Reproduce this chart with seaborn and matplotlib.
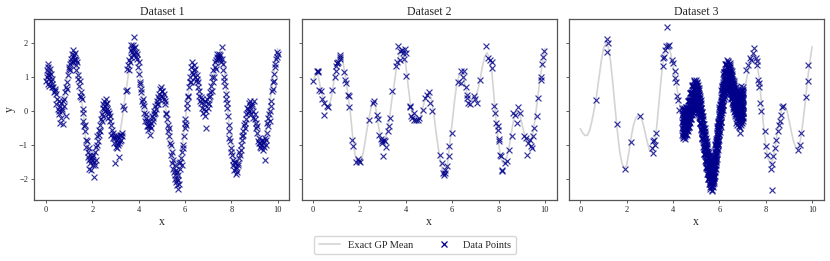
import numpy as np
import pandas as pd
import matplotlib
matplotlib.use("Agg")
import matplotlib.pyplot as plt
from matplotlib.lines import Line2D
import seaborn as sns

# ---------------- data ----------------
titles = ["Dataset 1", "Dataset 2", "Dataset 3"]
curve_x = np.linspace(0, 10, 101)

# exact GP mean (datasets 1 & 2), sampled every 0.1
curve12 = [0.85, 1.08, 1.12, 0.75, 0.45, 0.25, 0.12, 0.15, 0.45, 0.90,
           1.30, 1.55, 1.62, 1.40, 1.00, 0.50, 0.00, -0.70, -1.25, -1.50,
           -1.55, -1.40, -1.10, -0.65, -0.25, 0.10, 0.28, 0.10, -0.35, -0.75,
           -0.90, -0.85, -0.62, -0.20, 0.35, 0.80, 1.30, 1.65, 1.80, 1.75,
           1.35, 0.75, 0.20, -0.15, -0.32, -0.37, -0.25, 0.00, 0.28, 0.48,
           0.55, 0.35, -0.05, -0.60, -1.10, -1.50, -1.82, -1.88, -1.55, -0.95,
           -0.35, 0.30, 0.80, 1.05, 1.10, 0.95, 0.65, 0.38, 0.28, 0.30,
           0.40, 0.60, 0.92, 1.30, 1.60, 1.72, 1.60, 1.25, 0.45, -0.35,
           -0.95, -1.40, -1.55, -1.50, -1.25, -0.90, -0.45, -0.10, 0.02, -0.05,
           -0.35, -0.65, -0.85, -0.92, -0.88, -0.60, -0.10, 0.45, 1.00, 1.45,
           1.85]

# exact GP mean (dataset 3)
curve3 = [-0.52, -0.65, -0.72, -0.72, -0.58, -0.30, 0.05, 0.45, 0.95, 1.45,
          1.85, 2.00, 1.90, 1.50, 0.85, 0.10, -0.60, -1.20, -1.55, -1.70,
          -1.60, -1.20, -0.75, -0.40, -0.20, -0.13, -0.15, -0.35, -0.65, -0.95,
          -1.18, -1.20, -0.95, -0.45, 0.30, 1.05, 1.60, 1.88, 1.90, 1.70,
          1.35, 1.00, 0.55, 0.10, -0.25, -0.37, -0.25, 0.00, 0.28, 0.48,
          0.55, 0.35, -0.05, -0.60, -1.10, -1.50, -1.82, -1.88, -1.55, -0.95,
          -0.35, 0.30, 0.80, 1.05, 1.10, 0.95, 0.65, 0.38, 0.25, 0.18,
          0.30, 0.65, 1.05, 1.40, 1.62, 1.68, 1.50, 1.05, 0.35, -0.40,
          -1.00, -1.40, -1.58, -1.45, -1.10, -0.65, -0.25, 0.08, 0.18, 0.05,
          -0.25, -0.60, -0.90, -1.08, -1.10, -0.85, -0.35, 0.25, 0.90, 1.45,
          1.90]

# data points, dataset 1
x1 = [0.02, 0.05, 0.07, 0.08, 0.10, 0.12, 0.14, 0.15, 0.18, 0.22, 0.25, 0.28, 0.32, 0.35, 0.38,
      0.42, 0.45, 0.48, 0.52, 0.55, 0.56, 0.58, 0.62, 0.65, 0.66, 0.68, 0.72, 0.75, 0.78, 0.82,
      0.85, 0.88, 0.92, 0.95, 0.98, 1.02, 1.05, 1.08, 1.12, 1.15, 1.16, 1.18, 1.22, 1.25, 1.26,
      1.28, 1.32, 1.35, 1.38, 1.42, 1.45, 1.48, 1.52, 1.55, 1.58, 1.62, 1.65, 1.68, 1.72, 1.75,
      1.78, 1.82, 1.85, 1.86, 1.88, 1.92, 1.95, 1.96, 1.98, 2.02, 2.05, 2.06, 2.08, 2.12, 2.15,
      2.18, 2.22, 2.25, 2.28, 2.32, 2.35, 2.38, 2.42, 2.45, 2.46, 2.48, 2.52, 2.55, 2.56, 2.58,
      2.62, 2.65, 2.66, 2.68, 2.72, 2.75, 2.78, 2.82, 2.85, 2.88, 2.92, 2.95, 2.98, 3.00, 3.02,
      3.05, 3.06, 3.08, 3.12, 3.15, 3.16, 3.18, 3.22, 3.25, 3.28, 3.32, 3.36, 3.45, 3.48, 3.52,
      3.55, 3.58, 3.62, 3.65, 3.66, 3.68, 3.72, 3.75, 3.76, 3.78, 3.82, 3.85, 3.88, 3.92, 3.95,
      3.98, 4.02, 4.05, 4.08, 4.12, 4.15, 4.18, 4.22, 4.25, 4.28, 4.32, 4.35, 4.38, 4.42, 4.45,
      4.46, 4.48, 4.52, 4.55, 4.58, 4.62, 4.65, 4.68, 4.72, 4.75, 4.78, 4.82, 4.85, 4.88, 4.92,
      4.95, 4.98, 5.02, 5.05, 5.08, 5.12, 5.15, 5.18, 5.22, 5.25, 5.28, 5.32, 5.35, 5.38, 5.42,
      5.45, 5.48, 5.52, 5.55, 5.56, 5.58, 5.62, 5.64, 5.65, 5.66, 5.68, 5.72, 5.75, 5.76, 5.78,
      5.82, 5.85, 5.88, 5.92, 5.95, 5.98, 6.02, 6.05, 6.08, 6.12, 6.15, 6.18, 6.22, 6.25, 6.28,
      6.32, 6.35, 6.38, 6.42, 6.45, 6.48, 6.52, 6.55, 6.58, 6.62, 6.65, 6.68, 6.72, 6.75, 6.78,
      6.82, 6.85, 6.88, 6.90, 6.92, 6.95, 6.98, 7.02, 7.05, 7.08, 7.12, 7.15, 7.18, 7.22, 7.25,
      7.28, 7.32, 7.35, 7.38, 7.42, 7.45, 7.48, 7.52, 7.55, 7.58, 7.62, 7.65, 7.68, 7.72, 7.75,
      7.78, 7.82, 7.85, 7.88, 7.92, 7.95, 7.98, 8.02, 8.05, 8.08, 8.12, 8.15, 8.18, 8.22, 8.25,
      8.28, 8.32, 8.35, 8.38, 8.42, 8.45, 8.48, 8.52, 8.55, 8.58, 8.62, 8.65, 8.68, 8.72, 8.75,
      8.78, 8.82, 8.85, 8.88, 8.92, 8.95, 8.98, 9.02, 9.05, 9.08, 9.12, 9.15, 9.18, 9.22, 9.25,
      9.28, 9.32, 9.35, 9.38, 9.42, 9.45, 9.47, 9.48, 9.52, 9.55, 9.58, 9.62, 9.65, 9.68, 9.72,
      9.75, 9.78, 9.82, 9.85, 9.88, 9.92, 9.95, 9.98]
y1 = [0.90, 1.20, 1.05, 0.80, 1.40, 1.15, 0.75, 0.95, 1.25, 1.10, 0.80, 0.95, 0.70, 0.55, 0.65,
      0.50, 0.20, 0.35, 0.05, 0.30, -0.10, 0.00, -0.35, 0.25, -0.20, 0.05, -0.38, 0.30, 0.15, 0.55,
      -0.15, 0.70, 0.65, 1.05, 1.25, 1.40, 1.20, 1.45, 1.70, 1.45, 1.60, 1.80, 1.50, 1.72, 1.55,
      1.35, 1.20, 1.45, 0.95, 0.75, 0.90, 0.45, 0.40, 0.35, -0.05, -0.30, -0.45, -0.40, -0.85, -1.05,
      -0.90, -1.35, -1.10, -1.70, -1.45, -1.30, -1.75, -1.40, -1.45, -1.60, -1.30, -1.50, -1.95, -1.20, -1.45,
      -1.05, -0.75, -0.90, -0.55, -0.40, -0.60, -0.25, -0.30, 0.10, 0.20, -0.15, 0.30, 0.00, 0.15, 0.35,
      0.05, 0.25, -0.10, -0.20, -0.05, -0.30, -0.15, -0.70, -0.55, -0.80, -0.75, -0.95, -0.80, -1.55, -1.05,
      -0.85, -0.95, -1.10, -0.75, -0.95, -1.35, -0.70, -0.70, -0.85, -0.75, 0.15, 0.05, 0.60, 0.62, 1.25,
      1.35, 1.50, 1.45, 1.80, 1.95, 1.60, 1.85, 1.70, 1.95, 2.20, 1.65, 1.90, 1.75, 1.55, 1.70,
      1.30, 1.10, 0.85, 0.80, 0.55, 0.30, 0.20, -0.05, 0.15, -0.30, -0.20, -0.45, -0.30, -0.55, -0.30,
      -0.40, -0.70, -0.35, -0.50, -0.15, -0.30, 0.00, -0.10, 0.15, 0.05, 0.20, 0.40, 0.20, 0.50, 0.65,
      0.45, 0.70, 0.60, 0.40, 0.50, 0.20, 0.30, -0.10, -0.25, -0.40, -0.60, -0.75, -0.95, -1.00, -1.55,
      -1.20, -1.70, -1.80, -1.60, -1.90, -2.00, -2.10, -2.20, -1.80, -2.00, -2.30, -1.90, -2.15, -1.55, -1.70,
      -1.40, -1.60, -1.20, -1.00, -0.75, -0.50, -0.25, -0.40, 0.10, 0.40, 0.45, 0.70, 1.00, 0.85, 1.30,
      1.45, 1.10, 1.20, 1.00, 1.25, 0.90, 0.95, 0.70, 0.85, 0.45, 0.30, 0.40, 0.10, 0.35, -0.05,
      0.20, -0.15, 0.30, -0.50, 0.00, 0.35, 0.10, 0.40, 0.20, 0.55, 0.75, 0.60, 1.00, 1.20, 1.00,
      1.30, 1.25, 1.50, 1.60, 1.55, 1.70, 1.60, 1.65, 1.45, 1.90, 1.40, 1.20, 1.00, 0.75, 0.50,
      0.35, 0.10, -0.15, -0.40, -0.80, -0.90, -1.10, -1.30, -1.45, -1.60, -1.75, -1.55, -1.85, -1.65, -1.80,
      -1.60, -1.40, -1.20, -1.30, -1.00, -0.85, -0.75, -0.60, -0.40, -0.50, -0.25, -0.10, 0.10, -0.05, 0.25,
      0.00, 0.30, -0.10, 0.15, 0.00, -0.20, 0.30, -0.25, -0.35, -0.50, -0.65, -0.90, -0.80, -1.05, -0.95,
      -1.10, -0.85, -1.15, -0.95, -1.05, -0.80, -1.45, -1.00, -0.65, -0.35, -0.20, -0.10, -0.30, 0.00, 0.30,
      0.60, 0.85, 0.90, 1.10, 1.30, 1.55, 1.75, 1.60]
# further points of dataset 1
x1b = [0.04, 0.09, 0.13, 0.20, 0.27, 0.40, 0.60, 0.70, 0.80, 0.90, 1.00, 1.10, 1.20, 1.30, 1.40,
       1.50, 1.60, 1.70, 1.80, 1.90, 2.00, 2.10, 2.20, 2.30, 2.40, 2.50, 2.60, 2.70, 2.80, 2.90,
       3.04, 3.10, 3.20, 3.27, 3.60, 3.70, 3.80, 3.90, 4.00, 4.10, 4.20, 4.30, 4.40, 4.50, 4.60,
       4.70, 4.80, 4.90, 5.00, 5.10, 5.20, 5.30, 5.40, 5.50, 5.60, 5.70, 5.80, 5.90, 6.00, 6.10,
       6.20, 6.30, 6.40, 6.50, 6.60, 6.70, 6.80, 7.00, 7.10, 7.20, 7.30, 7.40, 7.50, 7.60, 7.70,
       7.80, 7.90, 8.00, 8.10, 8.20, 8.30, 8.40, 8.50, 8.60, 8.70, 8.80, 8.90, 9.00, 9.10, 9.20,
       9.30, 9.40, 9.50, 9.60, 9.70, 9.80, 9.90, 10.00]
y1b = [1.00, 1.30, 1.05, 0.90, 0.70, 0.60, 0.15, 0.00, 0.35, 0.85, 1.30, 1.55, 1.65, 1.50, 1.05,
       0.55, 0.05, -0.60, -1.20, -1.55, -1.35, -1.60, -1.00, -0.70, -0.10, 0.05, 0.20, 0.00, -0.40, -0.65,
       -0.75, -1.00, -0.90, -0.65, 1.20, 1.75, 1.85, 1.60, 1.45, 0.65, 0.35, -0.10, -0.45, -0.45, -0.20,
       -0.05, 0.30, 0.35, 0.60, 0.35, -0.05, -0.50, -1.30, -1.45, -1.75, -2.05, -1.50, -1.10, -0.35, 0.25,
       0.85, 1.15, 1.35, 1.05, 0.60, 0.25, 0.05, 0.25, 0.45, 0.85, 1.45, 1.70, 1.55, 1.55, 0.90,
       0.25, -0.60, -1.20, -1.50, -1.70, -1.55, -1.15, -0.70, -0.35, 0.05, 0.15, 0.20, -0.10, -0.45, -0.95,
       -1.00, -0.90, -0.85, -0.45, 0.15, 0.65, 1.40, 1.70]

# data points, dataset 2
x2 = [0.00, 0.17, 0.20, 0.22, 0.24, 0.33, 0.39, 0.45, 0.49, 0.60, 0.65, 0.83, 0.96, 0.98, 1.00,
      1.01, 1.04, 1.08, 1.15, 1.17, 1.18, 1.34, 1.38, 1.44, 1.51, 1.53, 1.55, 1.67, 1.70, 1.86,
      1.94, 1.99, 2.04, 2.43, 2.59, 2.63, 2.76, 2.78, 2.85, 2.92, 2.96, 2.99, 3.01, 3.05, 3.11,
      3.14, 3.21, 3.27, 3.31, 3.42, 3.57, 3.63, 3.68, 3.73, 3.76, 3.83, 3.88, 3.91, 3.96, 3.99,
      4.01, 4.17, 4.20, 4.23, 4.27, 4.35, 4.37, 4.43, 4.52, 4.58, 4.72, 4.82, 4.92, 5.01, 5.04,
      5.14, 5.48, 5.54, 5.61, 5.64, 5.67, 5.71, 5.76, 5.87, 5.87, 5.99, 6.24, 6.36, 6.40, 6.45,
      6.53, 6.59, 6.62, 6.65, 6.70, 6.76, 6.94, 6.99, 7.08, 7.19, 7.47, 7.55, 7.63, 7.70, 7.71,
      7.81, 7.86, 7.91, 7.96, 7.99, 8.00, 8.01, 8.06, 8.10, 8.14, 8.17, 8.27, 8.35, 8.45, 8.60,
      8.63, 8.72, 8.78, 8.86, 8.92, 9.10, 9.17, 9.22, 9.27, 9.35, 9.40, 9.44, 9.50, 9.54, 9.64,
      9.71, 9.81, 9.83, 9.86, 9.93, 9.97]
y2 = [0.89, 1.17, 1.19, 1.14, 0.61, 0.58, 0.37, 0.24, -0.13, 0.16, 0.12, 0.63, 1.02, 1.34, 1.17,
      1.43, 1.42, 1.46, 1.59, 1.53, 1.66, 1.14, 0.92, 0.83, 0.48, 0.45, 0.11, -0.87, -1.02, -1.50,
      -1.42, -1.48, -1.51, -0.28, 0.24, 0.31, -0.11, -0.24, -0.70, -0.83, -0.89, -0.94, -1.32, -0.85, -0.89,
      -1.06, -0.60, -0.45, -0.21, 0.58, 1.32, 1.46, 1.91, 1.76, 1.51, 1.81, 1.71, 1.53, 1.83, 1.71,
      1.04, 0.16, 0.12, -0.16, -0.21, -0.06, -0.26, -0.28, -0.26, -0.21, 0.04, 0.38, 0.48, 0.55, 0.24,
      -0.01, -1.29, -1.53, -1.83, -1.88, -1.83, -1.73, -1.63, -1.04, -1.32, -0.65, 0.87, 1.17, 0.83, 1.02,
      1.17, 0.71, 0.48, 0.38, 0.24, 0.22, 0.43, 0.35, 0.24, 0.92, 1.91, 1.56, 1.51, 1.46, 1.27,
      0.16, -0.06, -0.35, -0.43, -0.55, -0.83, -0.89, -1.29, -1.32, -1.73, -1.78, -1.53, -1.48, -1.14, -0.75,
      -0.06, -0.11, -0.35, 0.12, -0.06, -0.75, -0.80, -1.29, -0.94, -0.85, -1.04, -1.09, -0.75, -0.49, -0.14,
      0.38, 0.92, 1.00, 1.40, 1.61, 1.76]

# data points, dataset 3 (sparse part)
x3 = [0.69, 1.15, 1.17, 1.20, 1.59, 1.93, 2.18, 2.59, 3.11, 3.12, 3.15, 3.19, 3.24, 3.28, 3.55,
      3.58, 3.62, 3.65, 3.70, 3.75, 3.80, 3.84, 3.97, 4.01, 4.08, 4.10, 4.13, 4.18, 4.23, 4.25,
      6.85, 6.88, 6.90, 6.72, 6.78, 6.84, 6.93, 6.97, 7.00, 6.95, 7.00,
      7.16, 7.24, 7.31, 7.38, 7.45, 7.51, 7.56, 7.61, 7.64, 7.66, 7.69, 7.71,
      7.77, 7.81, 7.95, 8.01, 8.05, 8.21, 8.25, 8.27, 8.31, 8.38, 8.45, 8.52, 8.57, 8.60, 8.64,
      8.70, 8.74, 9.37, 9.46, 9.53, 9.74, 9.81, 9.84]
y3 = [0.33, 2.13, 1.73, 2.02, -0.37, -1.70, -0.91, -0.16, -1.09, -1.24, -0.89, -0.85, -0.99, -0.65, 1.32,
      1.56, 1.61, 1.81, 1.91, 2.48, 1.91, 1.96, 1.51, 1.42, 1.17, 0.97, 0.87, 0.43, 0.33, 0.04,
      -0.45, -0.66, -0.50, -0.35, -0.40, -0.48, -0.42, -0.36, -0.30, 0.75, 0.70,
      1.22, 1.37, 1.56, 1.51, 1.71, 1.86, 1.56, 1.49, 1.37, 0.92, 0.83, 0.71,
      0.24, -0.01, -0.60, -1.02, -1.29, -1.71, -1.58, -2.32, -1.34, -1.09, -0.85, -0.60, -0.40, -0.30, -0.11,
      0.12, 0.16, -1.14, -0.99, -0.65, 0.41, 0.89, 1.35]

# data points, dataset 3 (dense block 4.4 - 7.05): x and the readings at each x
blob_x = [4.40, 4.43, 4.46, 4.49, 4.52, 4.55, 4.58, 4.61, 4.64, 4.67, 4.70, 4.73, 4.76, 4.79, 4.82,
          4.85, 4.88, 4.91, 4.94, 4.97, 5.00, 5.03, 5.06, 5.09, 5.12, 5.15, 5.18, 5.21, 5.24, 5.27,
          5.30, 5.33, 5.36, 5.39, 5.42, 5.45, 5.48, 5.51, 5.54, 5.57, 5.60, 5.63, 5.66, 5.69, 5.72,
          5.75, 5.78, 5.81, 5.84, 5.87, 5.90, 5.93, 5.96, 5.99, 6.02, 6.05, 6.08, 6.11, 6.14, 6.17,
          6.20, 6.23, 6.26, 6.29, 6.32, 6.35, 6.38, 6.41, 6.44, 6.47, 6.50, 6.53, 6.56, 6.59, 6.62,
          6.65, 6.68, 6.71, 6.74, 6.77, 6.80, 6.83, 6.86, 6.89, 6.92, 6.95, 6.98, 7.01, 7.04]
blob_y = [
    [0.10, -0.12, -0.32, -0.51, -0.70], [-0.05, -0.26, -0.45, -0.65, -0.80], [0.10, -0.12, -0.31, -0.50, -0.69],
    [0.02, -0.20, -0.40, -0.59, -0.78], [-0.08, -0.29, -0.48, -0.68, -0.83], [0.12, -0.10, -0.29, -0.48, -0.67],
    [0.11, -0.11, -0.31, -0.50, -0.69], [0.05, -0.16, -0.35, -0.55, -0.70], [0.30, 0.08, -0.11, -0.30, -0.49],
    [0.32, 0.10, -0.10, -0.29, -0.48], [0.29, 0.08, -0.11, -0.31, -0.46], [0.54, 0.32, 0.13, -0.06, -0.25],
    [0.56, 0.34, 0.14, -0.05, -0.24], [0.52, 0.31, 0.12, -0.08, -0.23], [0.76, 0.54, 0.35, 0.16, -0.03],
    [0.76, 0.54, 0.34, 0.15, -0.04], [0.70, 0.49, 0.30, 0.10, -0.05], [0.91, 0.69, 0.50, 0.31, 0.12],
    [0.87, 0.65, 0.45, 0.26, 0.07], [0.77, 0.56, 0.37, 0.17, 0.02], [0.93, 0.71, 0.52, 0.33, 0.14],
    [0.83, 0.61, 0.41, 0.22, 0.03], [0.67, 0.46, 0.27, 0.07, -0.08], [0.76, 0.54, 0.35, 0.16, -0.03],
    [0.61, 0.39, 0.19, 0.00, -0.19], [0.39, 0.18, -0.01, -0.21, -0.36], [0.43, 0.21, 0.02, -0.17, -0.36],
    [0.23, 0.01, -0.19, -0.38, -0.57], [-0.04, -0.25, -0.44, -0.64, -0.79], [-0.03, -0.25, -0.44, -0.63, -0.82],
    [-0.25, -0.47, -0.67, -0.86, -1.05], [-0.51, -0.72, -0.91, -1.11, -1.26], [-0.49, -0.71, -0.90, -1.09, -1.28],
    [-0.68, -0.90, -1.10, -1.29, -1.48], [-0.92, -1.13, -1.32, -1.52, -1.67], [-0.88, -1.10, -1.29, -1.48, -1.67],
    [-1.05, -1.27, -1.47, -1.66, -1.85], [-1.27, -1.48, -1.67, -1.87, -2.02], [-1.21, -1.43, -1.62, -1.81, -2.00],
    [-1.36, -1.58, -1.78, -1.97, -2.16], [-1.56, -1.77, -1.96, -2.16, -2.31], [-1.44, -1.66, -1.85, -2.04, -2.23],
    [-1.53, -1.75, -1.95, -2.14, -2.33], [-1.62, -1.83, -2.02, -2.22, -2.37], [-1.38, -1.60, -1.79, -1.98, -2.17],
    [-1.34, -1.56, -1.76, -1.95, -2.14], [-1.32, -1.53, -1.72, -1.92, -2.07], [-1.01, -1.23, -1.42, -1.61, -1.80],
    [-0.91, -1.13, -1.33, -1.52, -1.71], [-0.84, -1.05, -1.24, -1.44, -1.59], [-0.49, -0.71, -0.90, -1.09, -1.28],
    [-0.36, -0.58, -0.78, -0.97, -1.16], [-0.29, -0.50, -0.69, -0.89, -1.04], [0.07, -0.15, -0.34, -0.53, -0.72],
    [0.19, -0.03, -0.23, -0.42, -0.61], [0.27, 0.06, -0.13, -0.33, -0.48], [0.62, 0.40, 0.21, 0.02, -0.17],
    [0.73, 0.51, 0.31, 0.12, -0.07], [0.78, 0.57, 0.38, 0.18, 0.03], [1.09, 0.87, 0.68, 0.49, 0.30],
    [1.16, 0.94, 0.74, 0.55, 0.36], [1.15, 0.94, 0.75, 0.55, 0.40], [1.40, 1.18, 0.99, 0.80, 0.61],
    [1.40, 1.18, 0.98, 0.79, 0.60], [1.33, 1.12, 0.93, 0.73, 0.58], [1.52, 1.30, 1.11, 0.92, 0.73],
    [1.45, 1.23, 1.03, 0.84, 0.65], [1.31, 1.10, 0.91, 0.71, 0.56], [1.43, 1.21, 1.02, 0.83, 0.64],
    [1.30, 1.08, 0.88, 0.69, 0.50], [1.11, 0.90, 0.71, 0.51, 0.36], [1.18, 0.96, 0.77, 0.58, 0.39],
    [1.03, 0.81, 0.61, 0.42, 0.23], [0.82, 0.61, 0.42, 0.22, 0.07], [0.90, 0.68, 0.49, 0.30, 0.11],
    [0.76, 0.54, 0.34, 0.15, -0.04], [0.59, 0.38, 0.19, -0.01, -0.16], [0.71, 0.49, 0.30, 0.11, -0.08],
    [0.60, 0.38, 0.18, -0.01, -0.20], [0.46, 0.25, 0.06, -0.14, -0.29], [0.61, 0.39, 0.20, 0.01, -0.18],
    [0.54, 0.32, 0.12, -0.07, -0.26], [0.42, 0.21, 0.02, -0.18, -0.33], [0.59, 0.37, 0.18, -0.01, -0.20],
    [0.54, 0.32, 0.12, -0.07, -0.26], [0.44, 0.23, 0.04, -0.16, -0.31], [0.63, 0.41, 0.22, 0.03, -0.16],
    [0.61, 0.39, 0.19, 0.00, -0.19], [0.53, 0.32, 0.13, -0.07, -0.22]]
blob2_x = [4.415, 4.445, 4.475, 4.505, 4.535, 4.565, 4.595, 4.625, 4.655, 4.685, 4.715, 4.745, 4.775,
           4.805, 4.835, 4.865, 4.895, 4.925, 4.955, 4.985, 5.015, 5.045, 5.075, 5.105, 5.135, 5.165,
           5.195, 5.225, 5.255, 5.285, 5.315, 5.345, 5.375, 5.405, 5.435, 5.465, 5.495, 5.525, 5.555,
           5.585, 5.615, 5.645, 5.675, 5.705, 5.735, 5.765, 5.795, 5.825, 5.855, 5.885, 5.915, 5.945,
           5.975, 6.005, 6.035, 6.065, 6.095, 6.125, 6.155, 6.185, 6.215, 6.245, 6.275, 6.305, 6.335,
           6.365, 6.395, 6.425, 6.455, 6.485, 6.515, 6.545, 6.575, 6.605, 6.635, 6.665, 6.695, 6.725,
           6.755, 6.785, 6.815, 6.845, 6.875, 6.905, 6.935, 6.965, 6.995, 7.025]
blob2_y = [
    [0.02, -0.20, -0.41, -0.61], [-0.10, -0.32, -0.53, -0.73], [0.05, -0.17, -0.37, -0.59], [-0.04, -0.26, -0.47, -0.67],
    [-0.11, -0.33, -0.54, -0.74], [0.10, -0.12, -0.32, -0.54], [0.07, -0.15, -0.36, -0.56], [0.05, -0.17, -0.38, -0.58],
    [0.30, 0.08, -0.12, -0.34], [0.30, 0.08, -0.13, -0.33], [0.29, 0.07, -0.14, -0.34], [0.54, 0.32, 0.12, -0.10],
    [0.54, 0.32, 0.11, -0.09], [0.52, 0.30, 0.09, -0.11], [0.75, 0.53, 0.33, 0.11], [0.73, 0.51, 0.30, 0.10],
    [0.68, 0.46, 0.25, 0.05], [0.88, 0.66, 0.46, 0.24], [0.82, 0.60, 0.39, 0.19], [0.73, 0.51, 0.30, 0.10],
    [0.87, 0.65, 0.45, 0.23], [0.75, 0.53, 0.32, 0.12], [0.59, 0.37, 0.16, -0.04], [0.68, 0.46, 0.26, 0.04],
    [0.50, 0.28, 0.07, -0.13], [0.29, 0.07, -0.14, -0.34], [0.32, 0.10, -0.10, -0.32], [0.09, -0.13, -0.34, -0.54],
    [-0.16, -0.38, -0.59, -0.79], [-0.15, -0.37, -0.57, -0.79], [-0.39, -0.61, -0.82, -1.02], [-0.63, -0.85, -1.06, -1.26],
    [-0.60, -0.82, -1.02, -1.24], [-0.81, -1.03, -1.24, -1.44], [-1.03, -1.25, -1.46, -1.66], [-0.98, -1.20, -1.40, -1.62],
    [-1.17, -1.39, -1.60, -1.80], [-1.37, -1.59, -1.80, -2.00], [-1.30, -1.52, -1.72, -1.94], [-1.47, -1.69, -1.90, -2.10],
    [-1.63, -1.85, -2.06, -2.26], [-1.50, -1.72, -1.92, -2.14], [-1.58, -1.80, -2.01, -2.21], [-1.63, -1.85, -2.06, -2.26],
    [-1.37, -1.59, -1.79, -2.01], [-1.34, -1.56, -1.77, -1.97], [-1.29, -1.51, -1.72, -1.92], [-0.97, -1.19, -1.39, -1.61],
    [-0.88, -1.10, -1.31, -1.51], [-0.79, -1.01, -1.22, -1.42], [-0.44, -0.66, -0.86, -1.08], [-0.33, -0.55, -0.76, -0.96],
    [-0.24, -0.46, -0.67, -0.87], [0.12, -0.10, -0.30, -0.52], [0.22, 0.00, -0.21, -0.41], [0.32, 0.10, -0.11, -0.31],
    [0.67, 0.45, 0.25, 0.03], [0.75, 0.53, 0.32, 0.12], [0.81, 0.59, 0.38, 0.18], [1.12, 0.90, 0.70, 0.48],
    [1.15, 0.93, 0.72, 0.52], [1.15, 0.93, 0.72, 0.52], [1.39, 1.17, 0.97, 0.75], [1.36, 1.14, 0.93, 0.73],
    [1.30, 1.08, 0.87, 0.67], [1.48, 1.26, 1.06, 0.84], [1.38, 1.16, 0.95, 0.75], [1.25, 1.03, 0.82, 0.62],
    [1.36, 1.14, 0.94, 0.72], [1.20, 0.98, 0.77, 0.57], [1.02, 0.80, 0.59, 0.39], [1.10, 0.88, 0.68, 0.46],
    [0.92, 0.70, 0.49, 0.29], [0.74, 0.52, 0.31, 0.11], [0.82, 0.60, 0.40, 0.18], [0.67, 0.45, 0.24, 0.04],
    [0.53, 0.31, 0.10, -0.10], [0.65, 0.43, 0.23, 0.01], [0.53, 0.31, 0.10, -0.10], [0.41, 0.19, -0.02, -0.22],
    [0.57, 0.35, 0.15, -0.07], [0.48, 0.26, 0.05, -0.15], [0.38, 0.16, -0.05, -0.25], [0.56, 0.34, 0.14, -0.08],
    [0.49, 0.27, 0.06, -0.14], [0.41, 0.19, -0.02, -0.22], [0.61, 0.39, 0.19, -0.03], [0.57, 0.35, 0.14, -0.06]]

y_ticks = [-2, -1, 0, 1, 2]
x_ticks = [0, 2, 4, 6, 8, 10]

# ---------------- style ----------------
sns.set_theme(style="ticks")
plt.rcParams["font.family"] = ["Liberation Serif", "DejaVu Serif"]
plt.rcParams["axes.unicode_minus"] = True

LINE_C = "#d4d4d4"
PT_C = "#00008b"

fig = plt.figure(figsize=(8.3, 2.61), dpi=100)
W, H = 830.0, 261.0
lefts = [34.3, 301.5, 568.7]
aw, top, bot = 255.0, 19.0, 200.0

bx = np.concatenate([np.repeat(blob_x, 5), np.repeat(blob2_x, 4)])
by = np.concatenate([np.ravel(blob_y), np.ravel(blob2_y)])
pts = [(np.concatenate([x1, x1b]), np.concatenate([y1, y1b])),
       (np.array(x2), np.array(y2)),
       (np.concatenate([x3, bx]), np.concatenate([y3, by]))]
curves = [curve12, curve12, curve3]

axes = []
for i in range(3):
    ax = fig.add_axes([lefts[i] / W, 1 - bot / H, aw / W, (bot - top) / H],
                      sharey=axes[0] if axes else None)
    axes.append(ax)
    df_line = pd.DataFrame({"x": curve_x, "y": curves[i]})
    sns.lineplot(data=df_line, x="x", y="y", ax=ax, color=LINE_C, lw=1.2,
                 estimator=None, sort=False, zorder=1)
    px, py = pts[i]
    df_pts = pd.DataFrame({"x": px, "y": py})
    sns.scatterplot(data=df_pts, x="x", y="y", ax=ax, marker="x", color=PT_C,
                    s=18, linewidth=0.85, alpha=0.8, zorder=2)
    ax.set_xlim(-0.5, 10.5)
    ax.set_ylim(-2.63, 2.72)
    ax.set_xticks(x_ticks)
    ax.set_yticks(y_ticks)
    ax.set_title(titles[i], fontsize=8.5, pad=3)
    ax.set_xlabel("x", fontsize=8.5, labelpad=1)
    if i == 0:
        ax.set_ylabel("y", fontsize=8.5, labelpad=2)
    else:
        ax.set_ylabel("")
        ax.tick_params(axis="y", labelleft=False)
    ax.tick_params(axis="both", labelsize=6, length=2.5, width=0.6, pad=2, color="#444444")
    for sp in ax.spines.values():
        sp.set_visible(True)
        sp.set_color("#555555")
        sp.set_linewidth(0.9)

handles = [Line2D([], [], color=LINE_C, lw=1.2),
           Line2D([], [], marker="x", ls="", color=PT_C, ms=4, mew=0.9)]
fig.legend(handles, ["Exact GP Mean", "Data Points"], loc="center",
           bbox_to_anchor=(0.5, 1 - 245 / H), ncol=2, fontsize=7.5,
           frameon=True, handlelength=2.0, columnspacing=2.0, borderpad=0.45)

fig.savefig("out.png", dpi=100)
